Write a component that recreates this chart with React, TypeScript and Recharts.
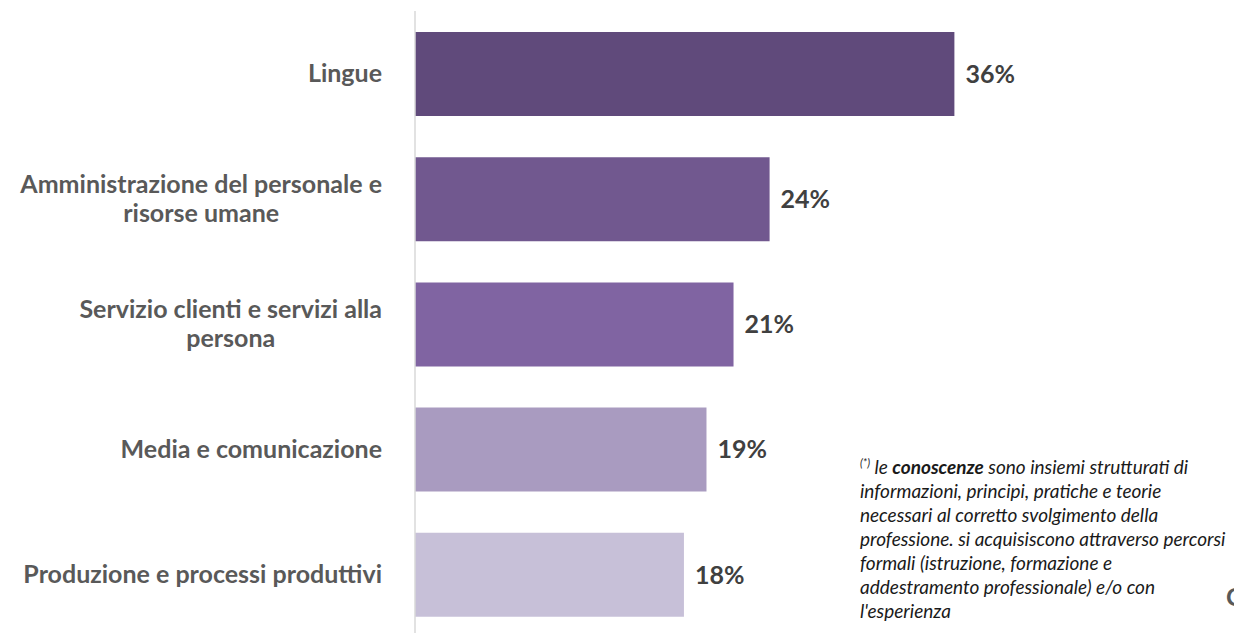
import React from 'react';
import { BarChart, Bar, XAxis, YAxis, Cell, LabelList } from 'recharts';

const categorie = [
  'Lingue',
  'Amministrazione del personale e|risorse umane',
  'Servizio clienti e servizi alla|persona',
  'Media e comunicazione',
  'Produzione e processi produttivi',
];
const valori = [35.9, 23.6, 21.2, 19.4, 17.9];
const colori = ['#604A7B', '#71588F', '#8064A2', '#A99BC0', '#C7C0D8'];

const dati = categorie.map((c, i) => ({ nome: c, valore: valori[i] }));

const FONT = 'Lato, "Open Sans", sans-serif';
const TICK_FONT = `bold 25px ${FONT}`;

let ctx: CanvasRenderingContext2D | null = null;
const misura = (t: string) => {
  if (!ctx) ctx = document.createElement('canvas').getContext('2d');
  if (!ctx) return t.length * 12;
  ctx.font = TICK_FONT;
  return ctx.measureText(t).width;
};

const TickCategoria = (props: any) => {
  const { x, y, payload } = props;
  const righe: string[] = String(payload.value).split('|');
  const lh = 29;
  if (righe.length === 1) {
    return (
      <text x={x} y={y} dy="0.35em" textAnchor="end" fill="#595959"
        style={{ font: TICK_FONT }}>{righe[0]}</text>
    );
  }
  const largh = Math.max(...righe.map(misura));
  const cx = x - largh / 2;
  const y0 = y - ((righe.length - 1) * lh) / 2;
  return (
    <text textAnchor="middle" fill="#595959" style={{ font: TICK_FONT }}>
      {righe.map((r, i) => (
        <tspan key={i} x={cx} y={y0 + i * lh} dy="0.35em">{r}</tspan>
      ))}
    </text>
  );
};

export default function App() {
  return (
    <div style={{ position: 'absolute', left: 0, top: 0, width: 1234, height: 633, overflow: 'hidden', background: '#fff' }}>
      <BarChart
        width={1234}
        height={650}
        data={dati}
        layout="vertical"
        margin={{ top: 11, right: 218, left: 0, bottom: 13 }}
        barSize={84}
      >
        <XAxis type="number" domain={[0, 40]} hide />
        <YAxis
          type="category"
          dataKey="nome"
          width={415}
          axisLine={{ stroke: '#d9d9d9', strokeWidth: 1.5 }}
          tickLine={false}
          tickSize={0}
          tickMargin={33}
          tick={<TickCategoria />}
          interval={0}
        />
        <Bar dataKey="valore" isAnimationActive={false}>
          {dati.map((d, i) => (
            <Cell key={i} fill={colori[i]} />
          ))}
          <LabelList
            dataKey="valore"
            position="right"
            offset={11}
            formatter={(v: any) => `${Math.round(Number(v))}%`}
            style={{ font: `bold 25px ${FONT}`, fill: '#404040' }}
          />
        </Bar>
      </BarChart>
      <div style={{
        position: 'absolute', left: 860, top: 451, width: 380, fontFamily: FONT,
        fontStyle: 'italic', fontSize: 19, lineHeight: '24px', color: '#1a1a1a', whiteSpace: 'nowrap',
      }}>
        <div><sup style={{ fontSize: 11 }}>(*)</sup> le <b>conoscenze</b> sono insiemi strutturati di</div>
        <div>informazioni, principi, pratiche e teorie</div>
        <div>necessari al corretto svolgimento della</div>
        <div>professione. si acquisiscono attraverso percorsi</div>
        <div>formali (istruzione, formazione e</div>
        <div>addestramento professionale) e/o con</div>
        <div>l'esperienza</div>
      </div>
      <div style={{ position: 'absolute', left: 1226, top: 581, fontFamily: FONT, fontWeight: 'bold', fontSize: 25, color: '#595959' }}>C</div>
    </div>
  );
}
